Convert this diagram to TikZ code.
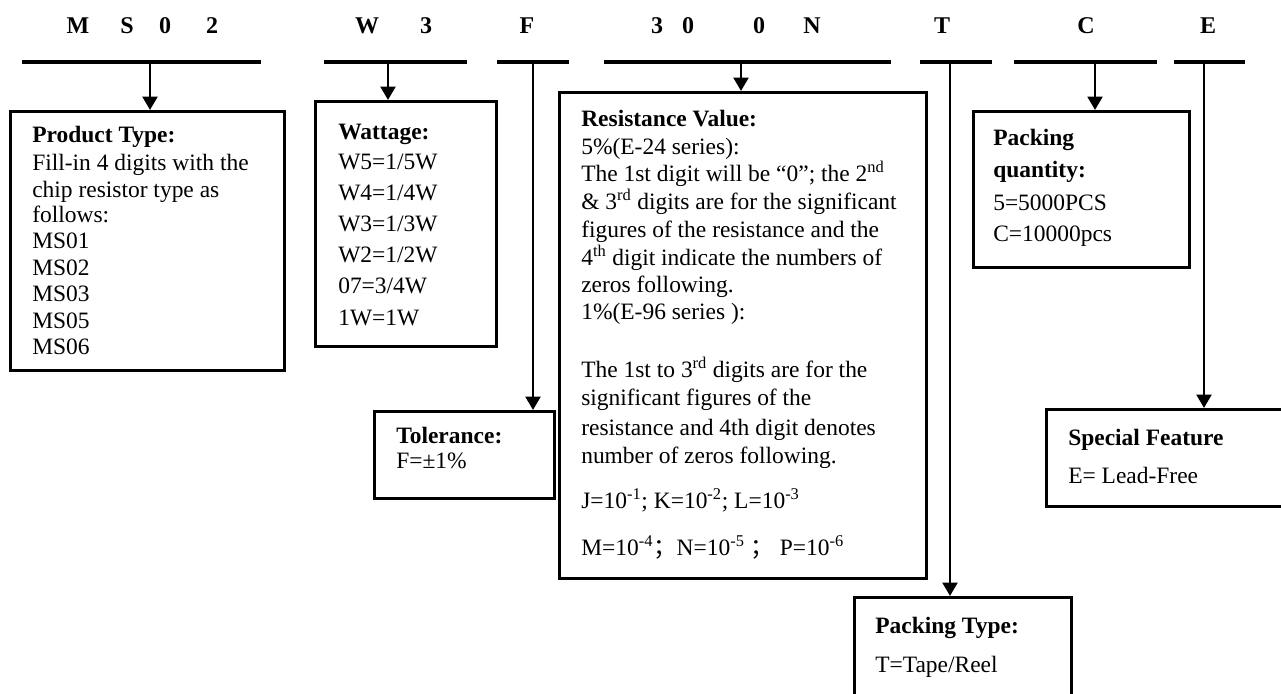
\documentclass[tikz,border=0pt]{standalone}
\usepackage{fontspec}
\setmainfont{Liberation Serif}
\newfontfamily\cjk{Noto Sans CJK SC}
\usetikzlibrary{arrows.meta}
\begin{document}
\begin{tikzpicture}[x=0.75pt,y=-0.75pt,
  bar/.style={line width=2.3pt},
  arr/.style={line width=2.2pt,-{Triangle[length=10pt,width=11pt]}},
  box/.style={draw,line width=2.2pt,anchor=north west,inner sep=0pt},
  code/.style={font=\fontsize{18}{20}\selectfont\bfseries,anchor=base,inner sep=0pt},
  txt/.style={font=\fontsize{17.6}{20}\selectfont,anchor=base west,inner sep=0pt},
  hd/.style={txt,font=\fontsize{17.6}{20}\selectfont\bfseries}
]
\clip (0,0) rectangle (1281,693);
\fill[white] (0,0) rectangle (1281,693);

% code letters
\node[code] (cM) at (78,33) {M};
\node[code] (cS) at (127,33) {S};
\node[code] (c0) at (165,33) {0};
\node[code] (c2) at (212,33) {2};
\node[code] (cW) at (367,33) {W};
\node[code] (c3) at (426,33) {3};
\node[code] (cF) at (527,33) {F};
\node[code] (d3) at (657,33) {3};
\node[code] (d0) at (688,33) {0};
\node[code] (e0) at (759,33) {0};
\node[code] (cN) at (812,33) {N};
\node[code] (cT) at (942,33) {T};
\node[code] (cC) at (1086,33) {C};
\node[code] (cE) at (1208,33) {E};

% bars
\coordinate (b1a) at (22,62);   \coordinate (b1b) at (261,62);
\coordinate (b2a) at (324,62);  \coordinate (b2b) at (467,62);
\coordinate (b3a) at (497,62);  \coordinate (b3b) at (569,62);
\coordinate (b4a) at (604,62);  \coordinate (b4b) at (891,62);
\coordinate (b5a) at (920,62);  \coordinate (b5b) at (992,62);
\coordinate (b6a) at (1014,62); \coordinate (b6b) at (1157,62);
\coordinate (b7a) at (1174,62); \coordinate (b7b) at (1245,62);
\foreach \i in {1,...,7} \draw[bar] (b\i a) -- (b\i b);

% boxes
\node[box,minimum width=205.5pt,minimum height=194pt] (prod) at (9,110) {};
\node[box,minimum width=135.75pt,minimum height=183.75pt] (watt) at (314,100) {};
\node[box,minimum width=135pt,minimum height=65.25pt] (tol) at (373,410) {};
\node[box,minimum width=275.25pt,minimum height=364.5pt] (res) at (558,91) {};
\node[box,minimum width=162pt,minimum height=117pt] (pq) at (972,110) {};
\node[box,minimum width=162.75pt,minimum height=93pt] (pt) at (853,596) {};
\node[box,minimum width=191.25pt,minimum height=72.75pt] (sf) at (1045,408) {};

% connectors
\coordinate (s1) at (150,62);
\coordinate (s2) at (388,62);
\coordinate (s3) at (533,62);
\coordinate (s4) at (741,62);
\coordinate (s5) at (950,62);
\coordinate (s6) at (1095,62);
\coordinate (s7) at (1204,62);
\draw[arr] (s1) -- (s1 |- prod.north);
\draw[arr] (s2) -- (s2 |- watt.north);
\draw[arr] (s3) -- (s3 |- tol.north);
\draw[arr] (s4) -- (s4 |- res.north);
\draw[arr] (s5) -- (s5 |- pt.north);
\draw[arr] (s6) -- (s6 |- pq.north);
\draw[arr] (s7) -- (s7 |- sf.north);

% product type
\node[hd]  (p0) at (32,142) {Product Type:};
\node[txt] (p1) at (32,170) {Fill-in 4 digits with the};
\node[txt] (p2) at (32,197) {chip resistor type as};
\node[txt] (p3) at (32,222) {follows:};
\node[txt] (p4) at (32,248) {MS01};
\node[txt] (p5) at (32,275) {MS02};
\node[txt] (p6) at (32,301) {MS03};
\node[txt] (p7) at (32,328) {MS05};
\node[txt] (p8) at (32,354) {MS06};

% wattage
\node[hd]  (w0) at (338,139) {Wattage:};
\node[txt] (w1) at (338,169) {W5=1/5W};
\node[txt] (w2) at (338,200) {W4=1/4W};
\node[txt] (w3) at (338,231) {W3=1/3W};
\node[txt] (w4) at (338,262) {W2=1/2W};
\node[txt] (w5) at (338,293) {07=3/4W};
\node[txt] (w6) at (338,325) {1W=1W};

% tolerance
\node[hd]  (t0) at (396,443) {Tolerance:};
\node[txt] (t1) at (396,468) {F=±1\%};

% resistance value
\node[hd]  (r0)  at (581,126) {Resistance Value:};
\node[txt] (r1)  at (581,154) {5\%(E-24 series):};
\node[txt] (r2)  at (581,181) {The 1st digit will be “0”; the 2\textsuperscript{nd}};
\node[txt] (r3)  at (581,209) {\& 3\textsuperscript{rd} digits are for the significant};
\node[txt] (r4)  at (581,237) {figures of the resistance and the};
\node[txt] (r5)  at (581,265) {4\textsuperscript{th} digit indicate the numbers of};
\node[txt] (r6)  at (581,292) {zeros following.};
\node[txt] (r7)  at (581,319) {1\%(E-96 series ):};
\node[txt] (r8)  at (581,377) {The 1st to 3\textsuperscript{rd} digits are for the};
\node[txt] (r9)  at (581,405) {significant figures of the};
\node[txt] (r10) at (581,435) {resistance and 4th digit denotes};
\node[txt] (r11) at (581,463) {number of zeros following.};
\node[txt] (r12) at (581,508) {J=10\textsuperscript{-1}; K=10\textsuperscript{-2}; L=10\textsuperscript{-3}};
\node[txt] (r13) at (581,555) {M=10\textsuperscript{-4}{\cjk ；}N=10\textsuperscript{-5} {\cjk ；} P=10\textsuperscript{-6}};

% packing quantity
\node[hd]  (q0) at (993,145) {Packing};
\node[hd]  (q1) at (993,177) {quantity:};
\node[txt] (q2) at (993,210) {5=5000PCS};
\node[txt] (q3) at (993,241) {C=10000pcs};

% packing type
\node[hd]  (k0) at (875,633) {Packing Type:};
\node[txt] (k1) at (875,672) {T=Tape/Reel};

% special feature
\node[hd]  (f0) at (1068,445) {Special Feature};
\node[txt] (f1) at (1068,483) {E= Lead-Free};
\end{tikzpicture}
\end{document}
